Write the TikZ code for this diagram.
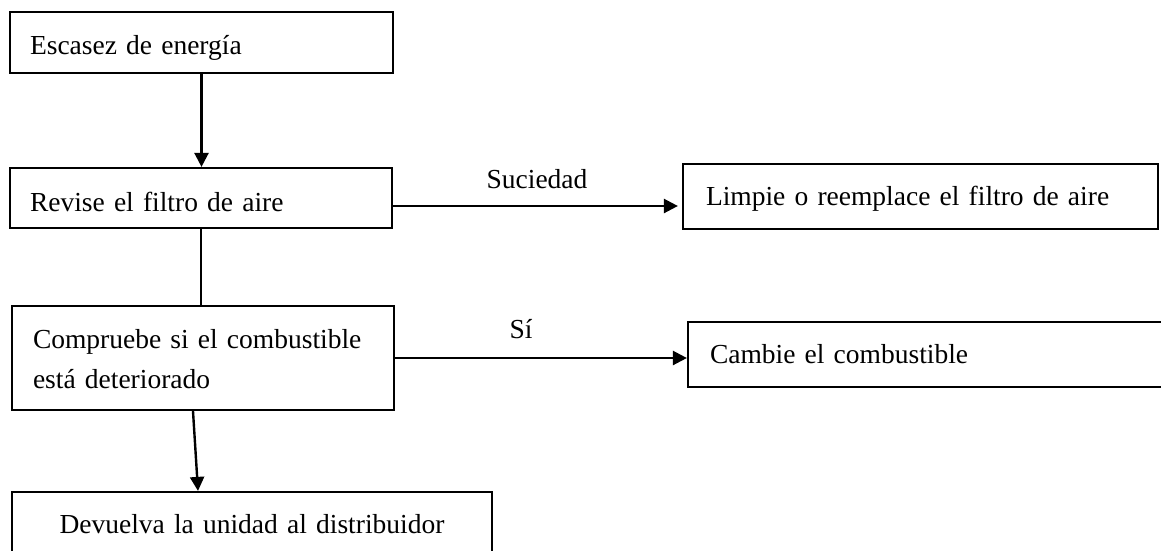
\documentclass[tikz,border=0pt]{standalone}
\usepackage{fontspec}
\setmainfont{Liberation Serif}
\usetikzlibrary{arrows.meta}
\begin{document}
\begin{tikzpicture}[x=1pt,y=-1pt,
  every node/.style={font=\fontsize{27.5}{40}\selectfont},
  box/.style={draw, line width=2.2pt, inner ysep=0pt, align=left, text depth=0pt},
  conn/.style={line width=2.4pt},
  arr/.style={conn, -{Triangle[length=14pt,width=14pt]}},
  lbl/.style={anchor=base, inner sep=0pt}]
\fill[white] (0,0) rectangle (1161,550);
\clip (0,0) rectangle (1161,550);
\node[box, text width=343pt, inner xsep=20pt, minimum height=61pt, text height=23pt] (b1) at (201.5,42.5) {Escasez de energía};
\node[box, text width=342pt, inner xsep=20pt, minimum height=60pt, text height=26pt] (b2) at (201,198) {Revise el filtro de aire};
\node[box, text width=340pt, inner xsep=21pt, minimum height=104pt, text height=20pt, text depth=40pt] (b3) at (203,358) {\makebox[340pt][s]{Compruebe si el combustible}\\está deteriorado};
\node[box, text width=440pt, inner xsep=20pt, minimum height=63pt, text height=19pt, align=center] (b4) at (252,523.5) {Devuelva la unidad al distribuidor};
\node[box, text width=429pt, inner xsep=23pt, minimum height=65pt, text height=17pt] (b5) at (920.5,196.5) {Limpie o reemplace el filtro de aire};
\node[box, text width=456pt, inner xsep=22pt, minimum height=65pt, text height=17pt] (b6) at (938,354.5) {Cambie el combustible};
\draw[arr] (b1.south) -- (b1.south |- b2.north);
\draw[conn] (b2.south) -- (b2.south |- b3.north);
\draw[arr] ([xshift=-10pt]b3.south) -- ([xshift=-54pt]b4.north);
\draw[arr, shorten >=4pt] ([yshift=-8pt]b2.east) -- ([yshift=-8pt]b2.east -| b5.west);
\draw[arr] (b3.east) -- (b3.east -| b6.west);
\node[lbl] (l1) at (537,188) {Suciedad};
\node[lbl] (l2) at (521,338) {Sí};
\end{tikzpicture}
\end{document}
